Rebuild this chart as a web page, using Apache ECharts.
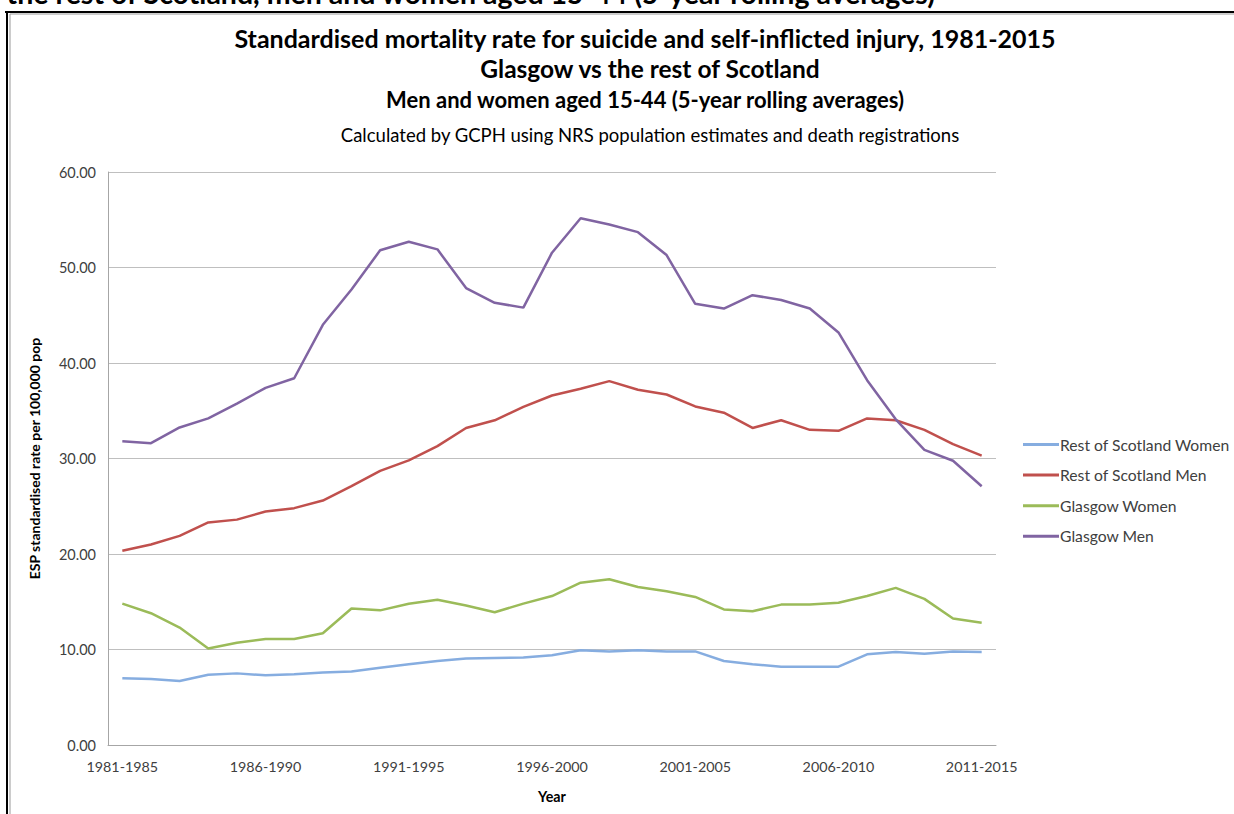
<!DOCTYPE html>
<html>
<head>
<meta charset="utf-8">
<script src="https://cdn.jsdelivr.net/npm/echarts@6/dist/echarts.min.js"></script>
<style>
html,body{margin:0;padding:0;background:#fff;}
#chart{width:1234px;height:814px;}
</style>
</head>
<body>
<div id="chart"></div>
<script>
const categories = ["1981-1985","1982-1986","1983-1987","1984-1988","1985-1989","1986-1990","1987-1991","1988-1992","1989-1993","1990-1994","1991-1995","1992-1996","1993-1997","1994-1998","1995-1999","1996-2000","1997-2001","1998-2002","1999-2003","2000-2004","2001-2005","2002-2006","2003-2007","2004-2008","2005-2009","2006-2010","2007-2011","2008-2012","2009-2013","2010-2014","2011-2015"];
const restWomen = [7.0,6.9,6.7,7.35,7.5,7.3,7.4,7.6,7.7,8.1,8.45,8.8,9.05,9.1,9.15,9.4,9.93,9.8,9.93,9.8,9.8,8.8,8.45,8.2,8.2,8.2,9.5,9.75,9.55,9.78,9.75];
const restMen = [20.35,21.0,21.9,23.3,23.6,24.45,24.8,25.6,27.1,28.7,29.8,31.3,33.2,34.0,35.4,36.6,37.3,38.1,37.2,36.7,35.45,34.8,33.2,34.0,33.0,32.9,34.2,34.0,33.0,31.5,30.3];
const glasgowWomen = [14.8,13.8,12.3,10.1,10.7,11.1,11.1,11.7,14.3,14.1,14.8,15.2,14.6,13.9,14.8,15.6,17.0,17.35,16.55,16.1,15.5,14.2,14.0,14.7,14.7,14.9,15.6,16.45,15.3,13.25,12.8];
const glasgowMen = [31.8,31.6,33.25,34.2,35.75,37.4,38.4,44.0,47.7,51.8,52.7,51.9,47.85,46.3,45.8,51.55,55.15,54.5,53.7,51.3,46.2,45.7,47.1,46.6,45.7,43.2,38.2,34.1,30.9,29.76,27.1];
const seriesNames = ["Rest of Scotland Women","Rest of Scotland Men","Glasgow Women","Glasgow Men"];
const seriesColors = ["#86ADE0","#C0504D","#9BBB59","#8064A2"];
const yTicks = {min:0,max:60,interval:10};

const FONT = "Lato";
const chart = echarts.init(document.getElementById('chart'), null, {renderer:'svg'});
const seriesData = [restWomen, restMen, glasgowWomen, glasgowMen];
const option = {
  animation:false,
  backgroundColor:'#fff',
  textStyle:{fontFamily:FONT},
  grid:{left:108, right:238, top:172, bottom:69, containLabel:false},
  graphic:[
    {type:'text', x:935, y:7, style:{text:'the rest of Scotland, men and women aged 15-44 (5-year rolling averages)', font:'bold 28.5px '+FONT, fill:'#000', textAlign:'right', textVerticalAlign:'bottom'}},
    {type:'rect', shape:{x:0,y:11,width:1234,height:4}, style:{fill:'#fff'}},
    {type:'line', shape:{x1:5,y1:12,x2:1234,y2:12}, style:{stroke:'#000',lineWidth:2}},
    {type:'line', shape:{x1:7,y1:12,x2:7,y2:814}, style:{stroke:'#000',lineWidth:2}},
    {type:'line', shape:{x1:10,y1:14,x2:1234,y2:14}, style:{stroke:'#999',lineWidth:1}},
    {type:'line', shape:{x1:10,y1:14,x2:10,y2:814}, style:{stroke:'#999',lineWidth:1}},
    {type:'text', x:645, y:38, style:{text:'Standardised mortality rate for suicide and self-inflicted injury, 1981-2015', font:'bold 25px '+FONT, fill:'#000', textAlign:'center', textVerticalAlign:'middle'}},
    {type:'text', x:650, y:68, style:{text:'Glasgow vs the rest of Scotland', font:'bold 24.5px '+FONT, fill:'#000', textAlign:'center', textVerticalAlign:'middle'}},
    {type:'text', x:645, y:99, style:{text:'Men and women aged 15-44 (5-year rolling averages)', font:'bold 22px '+FONT, fill:'#000', textAlign:'center', textVerticalAlign:'middle'}},
    {type:'text', x:650, y:135, style:{text:'Calculated by GCPH using NRS population estimates and death registrations', font:'18.5px '+FONT, fill:'#000', textAlign:'center', textVerticalAlign:'middle'}}
  ],
  legend:{
    orient:'vertical', left:1018, top:430, itemGap:11.6, itemWidth:36, itemHeight:3,
    icon:'rect',
    textStyle:{fontFamily:FONT, fontSize:15.7, color:'#404040', padding:[0,0,0,-4], lineHeight:19},
    data:seriesNames
  },
  xAxis:{
    type:'category', data:categories, boundaryGap:true,
    axisLine:{lineStyle:{color:'#A6A6A6'}},
    axisTick:{show:false},
    axisLabel:{interval:4, color:'#404040', fontSize:14.3, margin:14, fontFamily:FONT},
    name:'Year', nameLocation:'middle', nameGap:44,
    nameTextStyle:{fontWeight:'bold', fontSize:14.3, color:'#000', fontFamily:FONT}
  },
  yAxis:{
    type:'value', min:yTicks.min, max:yTicks.max, interval:yTicks.interval,
    axisLine:{show:true, lineStyle:{color:'#A6A6A6'}},
    axisTick:{show:false},
    splitLine:{lineStyle:{color:'#BFBFBF', width:1}},
    axisLabel:{formatter:v=>v.toFixed(2), color:'#404040', fontSize:14.5, margin:12, fontFamily:FONT},
    name:'ESP standardised rate per 100,000 pop', nameLocation:'middle', nameGap:67, nameRotate:90,
    nameTextStyle:{fontWeight:'bold', fontSize:14, color:'#000', fontFamily:FONT}
  },
  series: seriesNames.map((n,i)=>({
    name:n, type:'line', data:seriesData[i], symbol:'none', smooth:false,
    lineStyle:{color:seriesColors[i], width:2.5}, itemStyle:{color:seriesColors[i]}
  }))
};
chart.setOption(option);
</script>
</body>
</html>
